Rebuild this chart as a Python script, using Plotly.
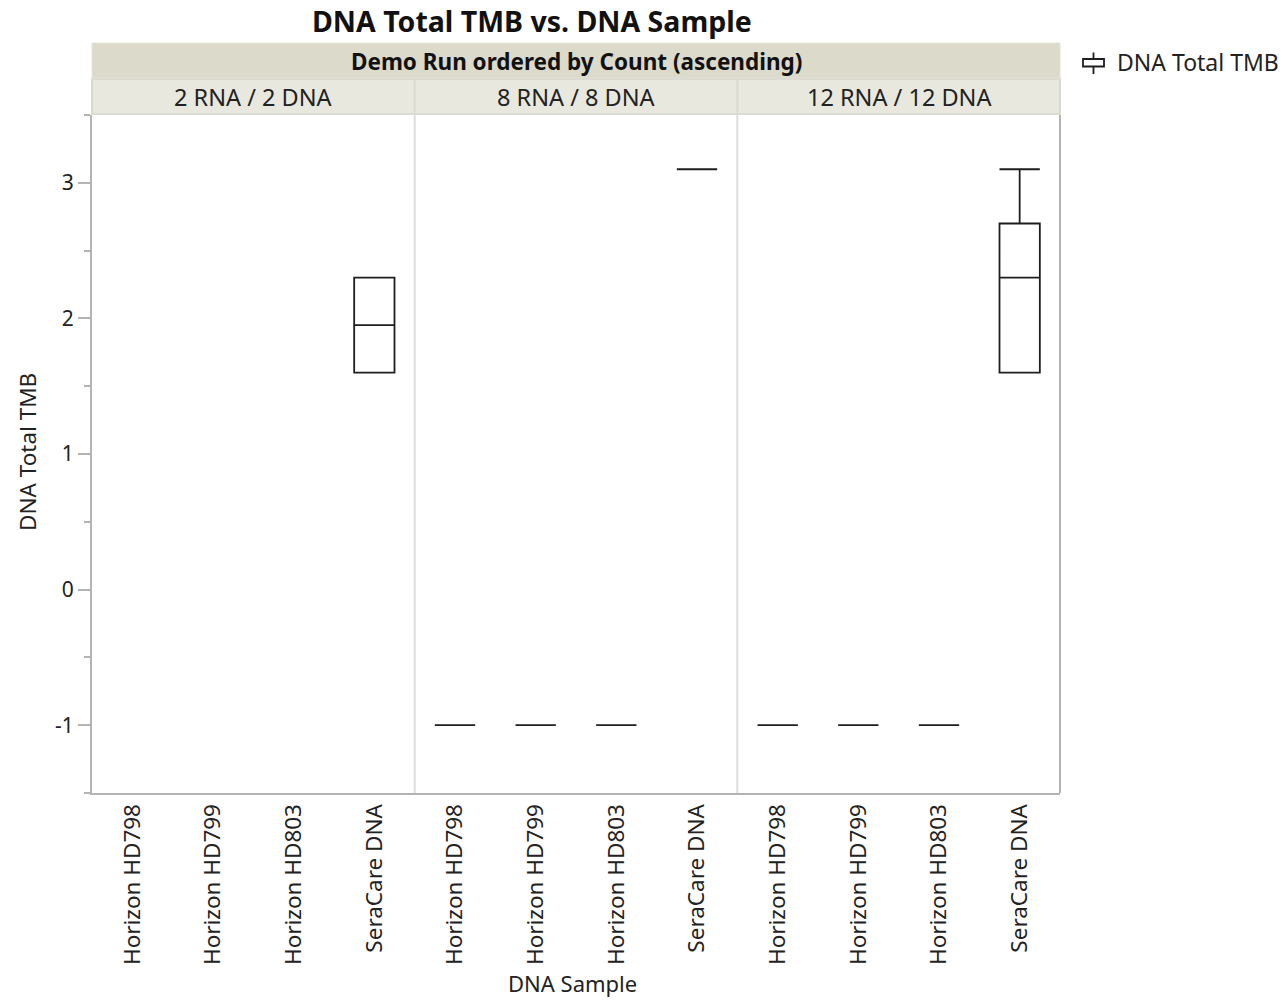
import plotly.graph_objects as go

# ---- data ----
panels = ["2 RNA / 2 DNA", "8 RNA / 8 DNA", "12 RNA / 12 DNA"]
samples = ["Horizon HD798", "Horizon HD799", "Horizon HD803", "SeraCare DNA"]

# per panel, per sample: (min, q1, median, q3, max); None = no data
p1_min = [None, None, None, 1.6]
p1_q1 = [None, None, None, 1.6]
p1_med = [None, None, None, 1.95]
p1_q3 = [None, None, None, 2.3]
p1_max = [None, None, None, 2.3]

p2_min = [-1.0, -1.0, -1.0, 3.1]
p2_q1 = [-1.0, -1.0, -1.0, 3.1]
p2_med = [-1.0, -1.0, -1.0, 3.1]
p2_q3 = [-1.0, -1.0, -1.0, 3.1]
p2_max = [-1.0, -1.0, -1.0, 3.1]

p3_min = [-1.0, -1.0, -1.0, 1.6]
p3_q1 = [-1.0, -1.0, -1.0, 1.6]
p3_med = [-1.0, -1.0, -1.0, 2.3]
p3_q3 = [-1.0, -1.0, -1.0, 2.7]
p3_max = [-1.0, -1.0, -1.0, 3.1]

y_ticks = [-1, 0, 1, 2, 3]
y_ticktext = ["-1", "0", "1", "2", "3"]

stats = [
    (p1_min, p1_q1, p1_med, p1_q3, p1_max),
    (p2_min, p2_q1, p2_med, p2_q3, p2_max),
    (p3_min, p3_q1, p3_med, p3_q3, p3_max),
]

FONT = "Noto Sans"
W, H = 1283, 1001
L, R, T, B = 92, 223, 115, 208
PW = W - L - R
PH = H - T - B


def px_x(px):
    return (px - L) / PW


def px_y(py):
    return (H - B - py) / PH


fig = go.Figure()

for i, (mn, q1, md, q3, mx) in enumerate(stats):
    idx = [k for k in range(len(samples)) if md[k] is not None]
    xa = "x" if i == 0 else f"x{i+1}"
    fig.add_trace(go.Box(
        x=[samples[k] for k in idx],
        lowerfence=[mn[k] for k in idx],
        q1=[q1[k] for k in idx],
        median=[md[k] for k in idx],
        q3=[q3[k] for k in idx],
        upperfence=[mx[k] for k in idx],
        name="DNA Total TMB",
        showlegend=False,
        line=dict(color="#1e1e1e", width=1.8),
        fillcolor="rgba(255,255,255,0)",
        width=0.5,
        whiskerwidth=1,
        xaxis=xa, yaxis="y",
        boxpoints=False,
    ))

TXT = "#222222"
AX = "#b4b4b4"

layout = dict(
    width=W, height=H,
    margin=dict(l=L, r=R, t=T, b=B),
    paper_bgcolor="white", plot_bgcolor="white",
    font=dict(family=FONT, size=22, color=TXT),
    showlegend=False,
    yaxis=dict(range=[-1.5, 3.5], tickvals=y_ticks, ticktext=y_ticktext,
               showgrid=False, zeroline=False,
               showline=True, linecolor=AX, linewidth=2,
               ticks="outside", ticklen=12, tickcolor=AX, tickwidth=2,
               tickfont=dict(size=21, color=TXT),
               minor=dict(dtick=0.5, tick0=0, ticks="outside", ticklen=6,
                          tickcolor=AX, tickwidth=2)),
)
for i in range(3):
    key = "xaxis" if i == 0 else f"xaxis{i+1}"
    layout[key] = dict(
        domain=[i / 3, (i + 1) / 3],
        type="category", categoryorder="array", categoryarray=samples,
        tickvals=samples, ticktext=samples,
        range=[-0.5, 3.5], anchor="y",
        tickangle=-90, showgrid=False, zeroline=False,
        showline=True, linecolor=AX, linewidth=2, ticks="",
        tickfont=dict(size=22.5, color=TXT),
    )
fig.update_layout(**layout)

shapes = []
# panel dividers
for xv in [1 / 3, 2 / 3]:
    shapes.append(dict(type="line", xref="paper", yref="paper", x0=xv, x1=xv, y0=0, y1=1,
                       line=dict(color="#dddddd", width=2)))
# right border
shapes.append(dict(type="line", xref="paper", yref="paper", x0=1, x1=1, y0=0, y1=1,
                   line=dict(color=AX, width=2)))
# top header strip
shapes.append(dict(type="rect", xref="paper", yref="paper", x0=0, x1=1,
                   y0=px_y(78), y1=px_y(43), fillcolor="#dcdacb",
                   line=dict(color="#e4e3d8", width=1), layer="below"))
# panel header strips
for i in range(3):
    shapes.append(dict(type="rect", xref="paper", yref="paper", x0=i / 3, x1=(i + 1) / 3,
                       y0=px_y(114), y1=px_y(79), fillcolor="#e9e8df",
                       line=dict(color="#dcdbd2", width=2), layer="below"))
# legend icon (box with whiskers)
shapes.append(dict(type="rect", xref="paper", yref="paper",
                   x0=px_x(1083), x1=px_x(1104), y0=px_y(66.5), y1=px_y(59),
                   fillcolor="white", line=dict(color="#1e1e1e", width=1.8)))
shapes.append(dict(type="line", xref="paper", yref="paper",
                   x0=px_x(1093.5), x1=px_x(1093.5), y0=px_y(59), y1=px_y(52.5),
                   line=dict(color="#1e1e1e", width=1.8)))
shapes.append(dict(type="line", xref="paper", yref="paper",
                   x0=px_x(1093.5), x1=px_x(1093.5), y0=px_y(74), y1=px_y(66.5),
                   line=dict(color="#1e1e1e", width=1.8)))
fig.update_layout(shapes=shapes)

ann = []
ann.append(dict(text="<b>DNA Total TMB vs. DNA Sample</b>", xref="paper", yref="paper",
                x=px_x(532), y=px_y(21), xanchor="center", yanchor="middle", showarrow=False,
                font=dict(size=28.5, color="#111111", family=FONT)))
ann.append(dict(text="<b>Demo Run ordered by Count (ascending)</b>", xref="paper", yref="paper",
                x=0.5, y=px_y(61), xanchor="center", yanchor="middle", showarrow=False,
                font=dict(size=22.5, color="#111111", family=FONT)))
for i, p in enumerate(panels):
    ann.append(dict(text=p, xref="paper", yref="paper", x=(i + 0.5) / 3, y=px_y(97),
                    xanchor="center", yanchor="middle",
                    showarrow=False, font=dict(size=23.5, color=TXT, family=FONT)))
ann.append(dict(text="DNA Sample", xref="paper", yref="paper", x=px_x(572), y=px_y(983),
                xanchor="center", yanchor="middle",
                showarrow=False, font=dict(size=22, color=TXT, family=FONT)))
ann.append(dict(text="DNA Total TMB", xref="paper", yref="paper", x=px_x(27), y=px_y(452),
                xanchor="center", yanchor="middle",
                textangle=-90, showarrow=False, font=dict(size=22.5, color=TXT, family=FONT)))
# legend text
ann.append(dict(text="DNA Total TMB", xref="paper", yref="paper", x=px_x(1115), y=px_y(62),
                xanchor="left", yanchor="middle",
                showarrow=False, font=dict(size=23, color=TXT, family=FONT)))
fig.update_layout(annotations=ann)

fig.write_html("out.html", config={"displayModeBar": False},
               post_script="document.body.style.margin='0';")
